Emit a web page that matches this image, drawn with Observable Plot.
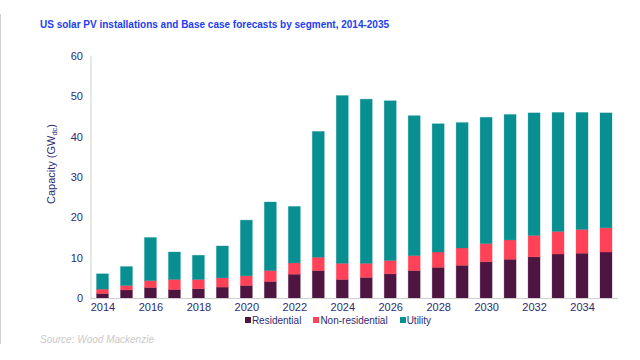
<!DOCTYPE html>
<html>
<head>
<meta charset="utf-8">
<script src="https://cdn.jsdelivr.net/npm/d3@7"></script>
<script src="https://cdn.jsdelivr.net/npm/@observablehq/plot@0.6"></script>
<style>
  html, body { margin: 0; padding: 0; background: #fff; }
  #wrap { position: relative; width: 640px; height: 360px; overflow: hidden; font-family: "Liberation Sans", Arial, sans-serif; }
  #border { position: absolute; left: 0; top: 14px; width: 1px; height: 330px; background: #d0d0d0; }
  #title { position: absolute; left: 40px; top: 19px; font-size: 10px; font-weight: bold; color: #1d3df2; white-space: nowrap; }
  #chart { position: absolute; left: 0; top: 40px; }
  #ylabel { position: absolute; left: 52px; top: 164px; transform: translate(-50%, -50%) rotate(-90deg); font-size: 11px; color: #2e2b72; white-space: nowrap; }
  #ylabel sub { font-size: 7.5px; vertical-align: -2px; }
  #legend { position: absolute; left: 0; width: 676px; top: 315px; text-align: center; font-size: 10px; color: #2e2b72; white-space: nowrap; }
  #legend span.item { margin: 0 6px; }
  #legend span.sw { display: inline-block; width: 6px; height: 6px; margin-right: 1px; vertical-align: 1px; }
  #source { position: absolute; left: 40px; top: 334px; font-size: 10px; font-style: italic; color: #c9c9c9; white-space: nowrap; }
</style>
</head>
<body>
<div id="wrap">
  <div id="border"></div>
  <div id="title">US solar PV installations and Base case forecasts by segment, 2014-2035</div>
  <div id="chart"></div>
  <div id="ylabel">Capacity (GW<sub>dc</sub>)</div>
  <div id="legend"></div>
  <div id="source">Source: Wood Mackenzie</div>
</div>
<script>
const years = [2014,2015,2016,2017,2018,2019,2020,2021,2022,2023,2024,2025,2026,2027,2028,2029,2030,2031,2032,2033,2034,2035];
const residential   = [1.1,2.0,2.6,2.1,2.3,2.7,3.1,4.1,5.9,6.8,4.6,5.1,6.0,6.8,7.6,8.1,9.0,9.6,10.2,10.9,11.1,11.4];
const nonResidential= [1.1,1.1,1.7,2.5,2.3,2.3,2.4,2.7,2.8,3.3,4.0,3.5,3.3,3.7,3.8,4.3,4.5,4.8,5.3,5.6,5.9,6.0];
const utility       = [3.8,4.7,10.7,6.8,6.0,7.9,13.8,17.0,14.0,31.2,41.6,40.7,39.6,34.7,31.8,31.1,31.3,31.1,30.4,29.5,29.0,28.5];
const segments = ["Residential","Non-residential","Utility"];
const colors = ["#4f1541","#ff4257","#078f92"];
const yTicks = [0,10,20,30,40,50,60];
const xTickYears = [2014,2016,2018,2020,2022,2024,2026,2028,2030,2032,2034];

const series = [residential, nonResidential, utility];
const data = [];
years.forEach((y, i) => {
  segments.forEach((s, j) => data.push({year: String(y), segment: s, value: series[j][i]}));
});

const plot = Plot.plot({
  width: 640,
  height: 278,
  marginLeft: 90.5,
  marginRight: 22,
  marginTop: 16,
  marginBottom: 20,
  style: {fontFamily: "'Liberation Sans', Arial, sans-serif", fontSize: "11px", color: "#2e2b72", background: "transparent"},
  x: {type: "band", domain: years.map(String), paddingInner: 0.5, paddingOuter: 0.25, round: false, label: null},
  y: {domain: [0, 60], label: null},
  color: {domain: segments, range: colors},
  marks: [
    Plot.barY(data, {x: "year", y: "value", fill: "segment", stroke: "segment", strokeOpacity: 0.35, strokeWidth: 0.8, order: segments}),
    Plot.frame({anchor: "left", stroke: "#cfcfcf"}),
    Plot.ruleY([0], {stroke: "#cfcfcf", strokeWidth: 1.2}),
    Plot.axisY({ticks: yTicks, tickSize: 0, tickPadding: 8, label: null, fill: "#2e2b72"}),
    Plot.axisX({ticks: xTickYears.map(String), tickSize: 0, tickPadding: 5, label: null, fill: "#2e2b72"})
  ]
});
document.getElementById("chart").appendChild(plot);

const legend = document.getElementById("legend");
segments.forEach((s, j) => {
  const item = document.createElement("span");
  item.className = "item";
  const sw = document.createElement("span");
  sw.className = "sw";
  sw.style.background = colors[j];
  item.appendChild(sw);
  item.appendChild(document.createTextNode(s));
  legend.appendChild(item);
});
</script>
</body>
</html>
